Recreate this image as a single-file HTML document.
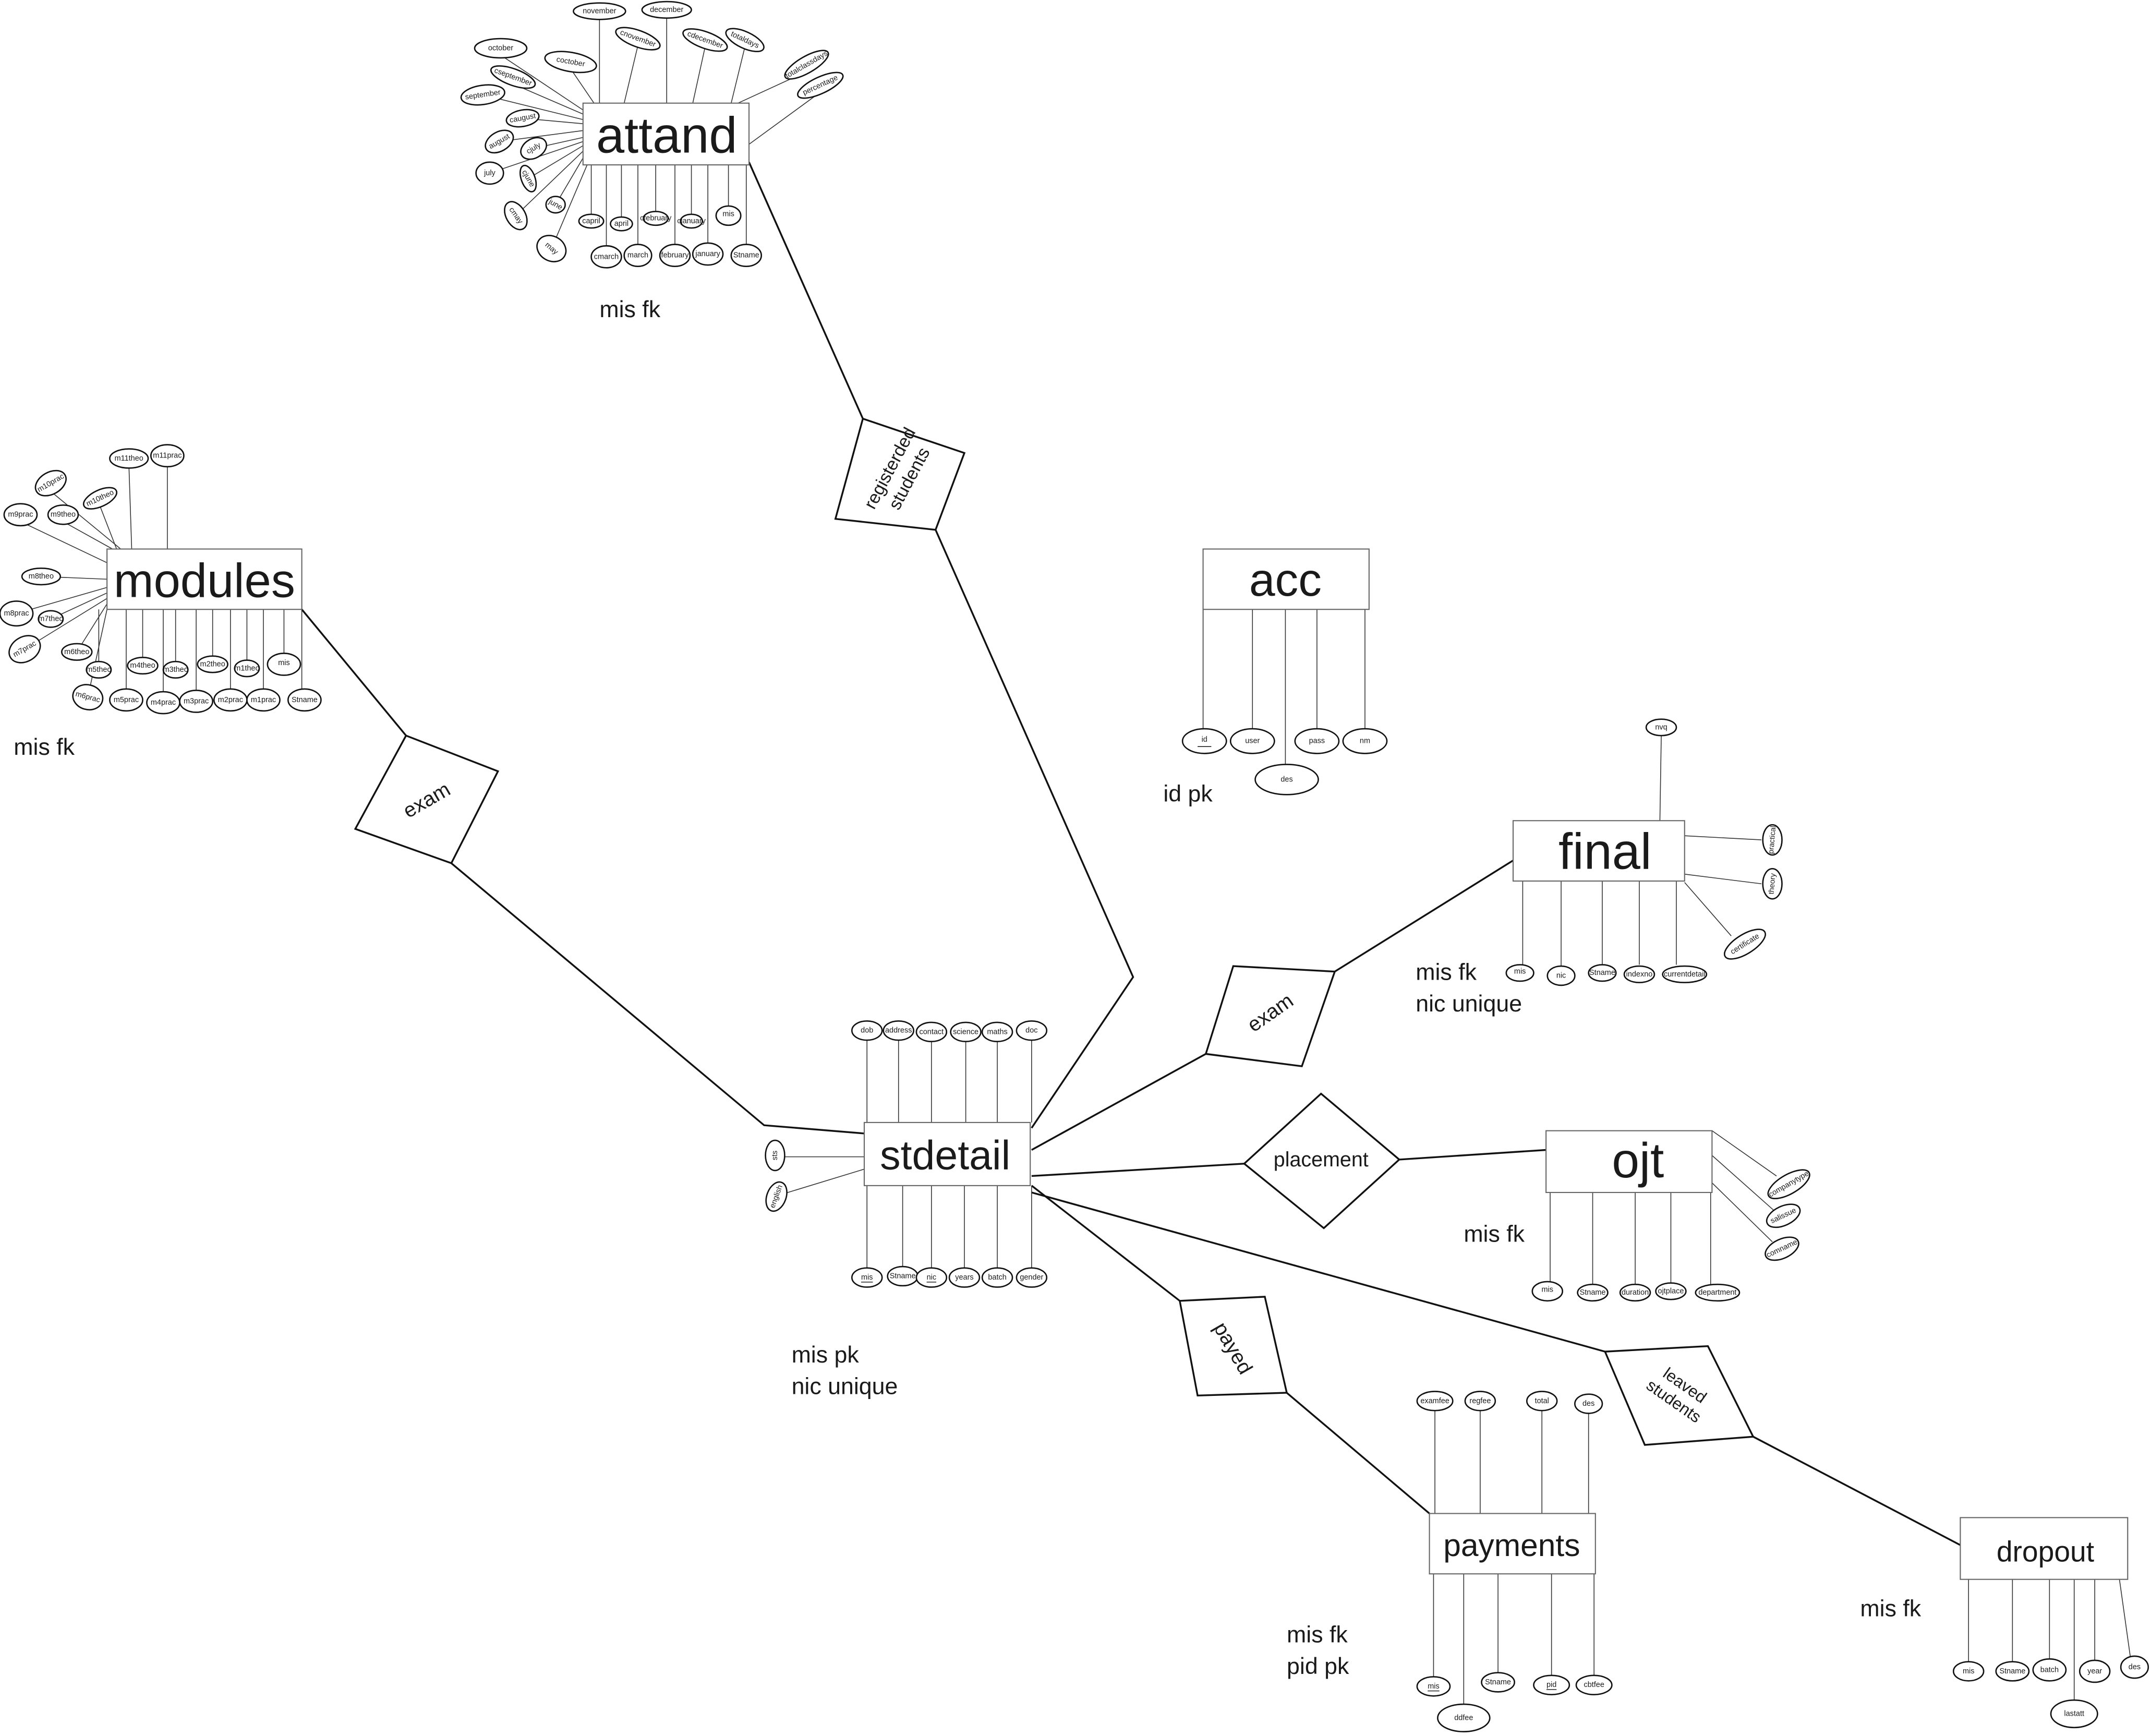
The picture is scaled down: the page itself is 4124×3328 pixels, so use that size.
<!DOCTYPE html>
<html><head><meta charset="utf-8"><style>
html,body{margin:0;padding:0;background:#fff;}
svg{display:block;}
text{font-family:"Liberation Sans",sans-serif;fill:#1a1a1a;}
.a line{stroke:#333;stroke-width:0.6;}
.e ellipse{fill:#fff;stroke:#111;stroke-width:1;}
.e text{font-size:5.5px;text-anchor:middle;dominant-baseline:central;}
.r{fill:#fff;stroke:#666;stroke-width:0.8;}
.c{stroke:#111;stroke-width:1.3;fill:none;}
.d{fill:#fff;stroke:#111;stroke-width:1.3;}
.t{font-size:17px;}
</style></head><body>
<svg width="4124" height="3328" viewBox="0 0 1568 1265" xmlns="http://www.w3.org/2000/svg">
<polyline class="c" points="546,118 629,305"/>
<polyline class="c" points="682,386 826,712 752,822"/>
<polyline class="c" points="220,444 296,536"/>
<polyline class="c" points="329,629 557,820 630,826"/>
<polyline class="c" points="752,838 879,768"/>
<polyline class="c" points="973,708 1103,627"/>
<polyline class="c" points="752,857 907,848"/>
<polyline class="c" points="1020,845 1127,838"/>
<polyline class="c" points="752,864 860,948"/>
<polyline class="c" points="938,1015 1042,1103"/>
<polyline class="c" points="752,869 1170,985"/>
<polyline class="c" points="1278,1047 1429,1126"/>

<g class="a">
<line x1="437" y1="14" x2="437" y2="75"/><line x1="486" y1="13" x2="486" y2="75"/>
<line x1="465" y1="33" x2="455" y2="75"/><line x1="514" y1="34" x2="505" y2="75"/>
<line x1="543" y1="34" x2="533" y2="75"/><line x1="588" y1="52" x2="538" y2="75"/>
<line x1="598" y1="67" x2="546" y2="105"/><line x1="365" y1="40" x2="425" y2="80"/>
<line x1="416" y1="50" x2="433" y2="75"/><line x1="374" y1="61" x2="425" y2="83"/>
<line x1="352" y1="69" x2="425" y2="87"/><line x1="381" y1="86" x2="425" y2="90"/>
<line x1="364" y1="103" x2="425" y2="95"/><line x1="389" y1="108" x2="425" y2="100"/>
<line x1="357" y1="126" x2="425" y2="103"/><line x1="385" y1="130" x2="425" y2="106"/>
<line x1="376" y1="157" x2="425" y2="110"/><line x1="405" y1="149" x2="425" y2="115"/>
<line x1="402" y1="181" x2="428" y2="120"/><line x1="431" y1="161" x2="431" y2="120"/>
<line x1="453" y1="163" x2="453" y2="120"/><line x1="478" y1="159" x2="478" y2="120"/>
<line x1="504" y1="161" x2="504" y2="120"/><line x1="531" y1="157" x2="531" y2="120"/>
<line x1="442" y1="187" x2="442" y2="120"/><line x1="465" y1="186" x2="465" y2="120"/>
<line x1="492" y1="186" x2="492" y2="120"/><line x1="516" y1="185" x2="516" y2="120"/>
<line x1="544" y1="186" x2="544" y2="120"/>
</g>
<rect class="r" x="425" y="75" width="121" height="45"/>
<text x="486" y="111" font-size="37" text-anchor="middle">attand</text>
<g class="e">
<ellipse cx="437" cy="8" rx="19" ry="6"/><text x="437" y="8">november</text>
<ellipse cx="486" cy="7" rx="18" ry="6"/><text x="486" y="7">december</text>
<ellipse cx="465" cy="28" rx="17" ry="6" transform="rotate(20 465 28)"/><text x="465" y="28" transform="rotate(20 465 28)">cnovember</text>
<ellipse cx="514" cy="29" rx="17" ry="6" transform="rotate(20 514 29)"/><text x="514" y="29" transform="rotate(20 514 29)">cdecember</text>
<ellipse cx="543" cy="29" rx="15" ry="6" transform="rotate(25 543 29)"/><text x="543" y="29" transform="rotate(25 543 29)">totaldays</text>
<ellipse cx="588" cy="47" rx="18" ry="6" transform="rotate(-30 588 47)"/><text x="588" y="47" transform="rotate(-30 588 47)">totalclassdays</text>
<ellipse cx="598" cy="62" rx="18" ry="6" transform="rotate(-25 598 62)"/><text x="598" y="62" transform="rotate(-25 598 62)">percentage</text>
<ellipse cx="365" cy="35" rx="19" ry="7"/><text x="365" y="35">october</text>
<ellipse cx="416" cy="45" rx="19" ry="7" transform="rotate(10 416 45)"/><text x="416" y="45" transform="rotate(10 416 45)">coctober</text>
<ellipse cx="374" cy="56" rx="17" ry="6" transform="rotate(20 374 56)"/><text x="374" y="56" transform="rotate(20 374 56)">cseptember</text>
<ellipse cx="352" cy="69" rx="16" ry="7" transform="rotate(-8 352 69)"/><text x="352" y="69" transform="rotate(-8 352 69)">september</text>
<ellipse cx="381" cy="86" rx="12" ry="6" transform="rotate(-10 381 86)"/><text x="381" y="86" transform="rotate(-10 381 86)">caugust</text>
<ellipse cx="364" cy="103" rx="11" ry="7" transform="rotate(-30 364 103)"/><text x="364" y="103" transform="rotate(-30 364 103)">august</text>
<ellipse cx="389" cy="108" rx="10" ry="7" transform="rotate(-30 389 108)"/><text x="389" y="108" transform="rotate(-30 389 108)">cjuly</text>
<ellipse cx="357" cy="126" rx="10" ry="8"/><text x="357" y="126">july</text>
<ellipse cx="385" cy="130" rx="5" ry="10" transform="rotate(-20 385 130)"/><text x="385" y="130" font-size="4" transform="rotate(60 385 130)">cjune</text>
<ellipse cx="376" cy="157" rx="7" ry="11" transform="rotate(-30 376 157)"/><text x="376" y="157" transform="rotate(55 376 157)">cmay</text>
<ellipse cx="405" cy="149" rx="7" ry="6"/><text x="405" y="149" font-size="4" transform="rotate(30 405 149)">june</text>
<ellipse cx="402" cy="181" rx="11" ry="9" transform="rotate(30 402 181)"/><text x="402" y="181" transform="rotate(40 402 181)">may</text>
<ellipse cx="431" cy="161" rx="9" ry="5"/><text x="431" y="161" font-size="4">capril</text>
<ellipse cx="453" cy="163" rx="8" ry="5"/><text x="453" y="163" font-size="4">april</text>
<ellipse cx="478" cy="159" rx="9" ry="5"/><text x="478" y="159" font-size="4">cfebruary</text>
<ellipse cx="504" cy="161" rx="8" ry="5"/><text x="504" y="161" font-size="4">cjanuary</text>
<ellipse cx="531" cy="157" rx="9" ry="7"/><text x="531" y="156" font-size="7">mis</text>
<ellipse cx="442" cy="187" rx="11" ry="8"/><text x="442" y="187">cmarch</text>
<ellipse cx="465" cy="186" rx="10" ry="8"/><text x="465" y="186">march</text>
<ellipse cx="492" cy="186" rx="11" ry="8"/><text x="492" y="186">february</text>
<ellipse cx="516" cy="185" rx="11" ry="8"/><text x="516" y="185">january</text>
<ellipse cx="544" cy="186" rx="11" ry="8"/><text x="544" y="186">Stname</text>
</g>
<text class="t" x="437" y="231">mis fk</text>

<g class="a">
<line x1="94" y1="340" x2="96" y2="400"/><line x1="122" y1="338" x2="122" y2="400"/>
<line x1="37" y1="358" x2="88" y2="400"/><line x1="73" y1="369" x2="85" y2="400"/>
<line x1="15" y1="380" x2="78" y2="410"/><line x1="46" y1="380" x2="82" y2="400"/>
<line x1="30" y1="420" x2="78" y2="422"/><line x1="12" y1="447" x2="78" y2="428"/>
<line x1="37" y1="451" x2="78" y2="432"/><line x1="18" y1="473" x2="78" y2="436"/>
<line x1="56" y1="475" x2="78" y2="440"/><line x1="64" y1="508" x2="78" y2="444"/>
<line x1="72" y1="488" x2="72" y2="444"/>
<line x1="92" y1="510" x2="92" y2="444"/><line x1="104" y1="485" x2="104" y2="444"/>
<line x1="119" y1="512" x2="119" y2="444"/><line x1="128" y1="488" x2="128" y2="444"/>
<line x1="143" y1="511" x2="143" y2="444"/><line x1="155" y1="484" x2="155" y2="444"/>
<line x1="168" y1="510" x2="168" y2="444"/><line x1="180" y1="487" x2="180" y2="444"/>
<line x1="192" y1="510" x2="192" y2="444"/><line x1="207" y1="484" x2="207" y2="444"/>
<line x1="220" y1="510" x2="220" y2="444"/>
</g>
<rect class="r" x="78" y="400" width="142" height="44"/>
<text x="149" y="435" font-size="35" text-anchor="middle">modules</text>
<g class="e">
<ellipse cx="94" cy="334" rx="14" ry="7"/><text x="94" y="334" font-size="5">m11theo</text>
<ellipse cx="122" cy="332" rx="12" ry="8"/><text x="122" y="332">m11prac</text>
<ellipse cx="37" cy="352" rx="12" ry="8" transform="rotate(-30 37 352)"/><text x="37" y="352" transform="rotate(-30 37 352)">m10prac</text>
<ellipse cx="73" cy="363" rx="13" ry="6" transform="rotate(-25 73 363)"/><text x="73" y="363" transform="rotate(-25 73 363)">m10theo</text>
<ellipse cx="15" cy="375" rx="12" ry="8"/><text x="15" y="375">m9prac</text>
<ellipse cx="46" cy="375" rx="11" ry="7"/><text x="46" y="375" font-size="5">m9theo</text>
<ellipse cx="30" cy="420" rx="14" ry="6"/><text x="30" y="420" font-size="5">m8theo</text>
<ellipse cx="12" cy="447" rx="12" ry="9"/><text x="12" y="447">m8prac</text>
<ellipse cx="37" cy="451" rx="9" ry="6"/><text x="37" y="451" font-size="4">m7theo</text>
<ellipse cx="18" cy="473" rx="12" ry="9" transform="rotate(-30 18 473)"/><text x="18" y="473" transform="rotate(-30 18 473)">m7prac</text>
<ellipse cx="56" cy="475" rx="11" ry="6"/><text x="56" y="475" font-size="4">m6theo</text>
<ellipse cx="72" cy="488" rx="9" ry="6"/><text x="72" y="488" font-size="4">m5theo</text>
<ellipse cx="104" cy="485" rx="11" ry="6"/><text x="104" y="485" font-size="4.5">m4theo</text>
<ellipse cx="128" cy="488" rx="9" ry="6"/><text x="128" y="488" font-size="4">m3theo</text>
<ellipse cx="155" cy="484" rx="11" ry="6"/><text x="155" y="484" font-size="4.5">m2theo</text>
<ellipse cx="180" cy="487" rx="9" ry="6"/><text x="180" y="487" font-size="4">m1theo</text>
<ellipse cx="207" cy="484" rx="12" ry="8"/><text x="207" y="483" font-size="8">mis</text>
<ellipse cx="64" cy="508" rx="11" ry="9" transform="rotate(15 64 508)"/><text x="64" y="508" transform="rotate(15 64 508)">m6prac</text>
<ellipse cx="92" cy="510" rx="12" ry="8"/><text x="92" y="510">m5prac</text>
<ellipse cx="119" cy="512" rx="12" ry="8"/><text x="119" y="512">m4prac</text>
<ellipse cx="143" cy="511" rx="12" ry="8"/><text x="143" y="511">m3prac</text>
<ellipse cx="168" cy="510" rx="12" ry="8"/><text x="168" y="510">m2prac</text>
<ellipse cx="192" cy="510" rx="12" ry="8"/><text x="192" y="510">m1prac</text>
<ellipse cx="222" cy="510" rx="12" ry="8"/><text x="222" y="510">Stname</text>
</g>
<text class="t" x="10" y="550">mis fk</text>

<g class="a">
<line x1="877" y1="444" x2="877" y2="532"/><line x1="913" y1="444" x2="913" y2="532"/>
<line x1="937" y1="444" x2="937" y2="558"/><line x1="960" y1="444" x2="960" y2="532"/>
<line x1="995" y1="444" x2="995" y2="532"/>
</g>
<rect class="r" x="877" y="400" width="121" height="44"/>
<text x="937" y="434" font-size="34" text-anchor="middle">acc</text>
<g class="e">
<ellipse cx="878" cy="540" rx="16" ry="9"/><text x="878" y="539" font-size="8">id</text>
<line x1="873" y1="544" x2="883" y2="544" stroke="#111" stroke-width="0.6"/>
<ellipse cx="913" cy="540" rx="16" ry="9"/><text x="913" y="540">user</text>
<ellipse cx="938" cy="568" rx="23" ry="11"/><text x="938" y="568" font-size="8">des</text>
<ellipse cx="960" cy="540" rx="16" ry="9"/><text x="960" y="540">pass</text>
<ellipse cx="995" cy="540" rx="16" ry="9"/><text x="995" y="540">nm</text>
</g>
<text class="t" x="848" y="584">id pk</text>

<g class="a">
<line x1="1211" y1="536" x2="1210" y2="598"/>
<line x1="1228" y1="609" x2="1284" y2="612"/><line x1="1228" y1="637" x2="1284" y2="644"/>
<line x1="1228" y1="643" x2="1262" y2="682"/>
<line x1="1110" y1="642" x2="1110" y2="703"/><line x1="1138" y1="642" x2="1138" y2="704"/>
<line x1="1168" y1="642" x2="1168" y2="703"/><line x1="1195" y1="642" x2="1195" y2="703"/>
<line x1="1222" y1="642" x2="1222" y2="703"/>
</g>
<rect class="r" x="1103" y="598" width="125" height="44"/>
<text x="1170" y="633" font-size="37" text-anchor="middle">final</text>
<g class="e">
<ellipse cx="1211" cy="530" rx="11" ry="6"/><text x="1211" y="530">nvq</text>
<ellipse cx="1292" cy="612" rx="7" ry="11"/><text x="1292" y="612" font-size="4" transform="rotate(-85 1292 612)">practical</text>
<ellipse cx="1292" cy="644" rx="7" ry="11"/><text x="1292" y="644" font-size="4" transform="rotate(-85 1292 644)">theory</text>
<ellipse cx="1272" cy="688" rx="17" ry="7" transform="rotate(-32 1272 688)"/><text x="1272" y="688" transform="rotate(-32 1272 688)">certificate</text>
<ellipse cx="1108" cy="709" rx="10" ry="6"/><text x="1108" y="708" font-size="7">mis</text>
<ellipse cx="1138" cy="711" rx="10" ry="7"/><text x="1138" y="711" font-size="9">nic</text>
<ellipse cx="1168" cy="709" rx="10" ry="6"/><text x="1168" y="709" font-size="4.5">Stname</text>
<ellipse cx="1195" cy="710" rx="11" ry="6"/><text x="1195" y="710" font-size="4.5">indexno</text>
<ellipse cx="1228" cy="710" rx="16" ry="6"/><text x="1228" y="710" font-size="4.5">currentdetail</text>
</g>
<text class="t" x="1032" y="714">mis fk</text>
<text class="t" x="1032" y="737">nic unique</text>

<g class="a">
<line x1="1248" y1="824" x2="1295" y2="857"/><line x1="1248" y1="842" x2="1293" y2="882"/>
<line x1="1248" y1="862" x2="1292" y2="905"/>
<line x1="1130" y1="869" x2="1130" y2="935"/><line x1="1161" y1="869" x2="1161" y2="936"/>
<line x1="1192" y1="869" x2="1192" y2="936"/><line x1="1218" y1="869" x2="1218" y2="935"/>
<line x1="1247" y1="869" x2="1247" y2="936"/>
</g>
<rect class="r" x="1127" y="824" width="121" height="45"/>
<text x="1194" y="858" font-size="36" text-anchor="middle">ojt</text>
<g class="e">
<ellipse cx="1304" cy="863" rx="17" ry="7" transform="rotate(-30 1304 863)"/><text x="1304" y="863" font-size="4.5" transform="rotate(-30 1304 863)">companytype</text>
<ellipse cx="1300" cy="886" rx="13" ry="7" transform="rotate(-25 1300 886)"/><text x="1300" y="886" font-size="4.5" transform="rotate(-25 1300 886)">salissue</text>
<ellipse cx="1299" cy="910" rx="13" ry="7" transform="rotate(-25 1299 910)"/><text x="1299" y="910" font-size="4.5" transform="rotate(-25 1299 910)">comname</text>
<ellipse cx="1128" cy="941" rx="11" ry="7"/><text x="1128" y="940" font-size="7">mis</text>
<ellipse cx="1161" cy="942" rx="11" ry="6"/><text x="1161" y="942" font-size="5">Stname</text>
<ellipse cx="1192" cy="942" rx="11" ry="6"/><text x="1192" y="942" font-size="5">duration</text>
<ellipse cx="1218" cy="941" rx="11" ry="6"/><text x="1218" y="941" font-size="5">ojtplace</text>
<ellipse cx="1252" cy="942" rx="16" ry="6"/><text x="1252" y="942" font-size="5">department</text>
</g>
<text class="t" x="1067" y="905">mis fk</text>

<g class="a">
<line x1="632" y1="757" x2="632" y2="818"/><line x1="655" y1="757" x2="655" y2="818"/>
<line x1="679" y1="758" x2="679" y2="818"/><line x1="704" y1="758" x2="704" y2="818"/>
<line x1="727" y1="758" x2="727" y2="818"/><line x1="752" y1="757" x2="752" y2="818"/>
<line x1="632" y1="864" x2="632" y2="925"/><line x1="658" y1="864" x2="658" y2="924"/>
<line x1="679" y1="864" x2="679" y2="925"/><line x1="703" y1="864" x2="703" y2="925"/>
<line x1="727" y1="864" x2="727" y2="925"/><line x1="752" y1="864" x2="752" y2="925"/>
<line x1="570" y1="843" x2="630" y2="843"/><line x1="571" y1="870" x2="630" y2="852"/>
</g>
<rect class="r" x="630" y="818" width="121" height="46"/>
<text x="689" y="852" font-size="30" text-anchor="middle">stdetail</text>
<g class="e">
<ellipse cx="632" cy="751" rx="11" ry="7"/><text x="632" y="751" font-size="10">dob</text>
<ellipse cx="655" cy="751" rx="11" ry="7"/><text x="655" y="751" font-size="5">address</text>
<ellipse cx="679" cy="752" rx="11" ry="7"/><text x="679" y="752" font-size="5">contact</text>
<ellipse cx="704" cy="752" rx="11" ry="7"/><text x="704" y="752" font-size="5">science</text>
<ellipse cx="727" cy="752" rx="11" ry="7"/><text x="727" y="752" font-size="6">maths</text>
<ellipse cx="752" cy="751" rx="11" ry="7"/><text x="752" y="751" font-size="10">doc</text>
<ellipse cx="632" cy="931" rx="11" ry="7"/><text x="632" y="931" font-size="7" text-decoration="underline">mis</text>
<ellipse cx="658" cy="930" rx="11" ry="7"/><text x="658" y="930" font-size="5">Stname</text>
<ellipse cx="679" cy="931" rx="11" ry="7"/><text x="679" y="931" font-size="10" text-decoration="underline">nic</text>
<ellipse cx="703" cy="931" rx="11" ry="7"/><text x="703" y="931" font-size="6">years</text>
<ellipse cx="727" cy="931" rx="11" ry="7"/><text x="727" y="931" font-size="6">batch</text>
<ellipse cx="752" cy="931" rx="11" ry="7"/><text x="752" y="931" font-size="5.5">gender</text>
<ellipse cx="565" cy="842" rx="7" ry="11"/><text x="565" y="842" font-size="9" transform="rotate(-90 565 842)">sts</text>
<ellipse cx="566" cy="872" rx="7" ry="11" transform="rotate(20 566 872)"/><text x="566" y="872" font-size="4.5" transform="rotate(-70 566 872)">english</text>
</g>
<text class="t" x="577" y="993">mis pk</text>
<text class="t" x="577" y="1016">nic unique</text>

<g class="a">
<line x1="1046" y1="1027" x2="1046" y2="1103"/><line x1="1079" y1="1027" x2="1079" y2="1103"/>
<line x1="1124" y1="1027" x2="1124" y2="1103"/><line x1="1158" y1="1029" x2="1158" y2="1103"/>
<line x1="1045" y1="1147" x2="1045" y2="1222"/><line x1="1067" y1="1147" x2="1067" y2="1242"/>
<line x1="1092" y1="1147" x2="1092" y2="1220"/><line x1="1131" y1="1147" x2="1131" y2="1221"/>
<line x1="1162" y1="1147" x2="1162" y2="1222"/>
</g>
<rect class="r" x="1042" y="1103" width="121" height="44"/>
<text x="1102" y="1134" font-size="23" text-anchor="middle">payments</text>
<g class="e">
<ellipse cx="1046" cy="1021" rx="13" ry="7"/><text x="1046" y="1021" font-size="5">examfee</text>
<ellipse cx="1079" cy="1021" rx="11" ry="7"/><text x="1079" y="1021" font-size="5">regfee</text>
<ellipse cx="1124" cy="1021" rx="11" ry="7"/><text x="1124" y="1021" font-size="5">total</text>
<ellipse cx="1158" cy="1023" rx="10" ry="7"/><text x="1158" y="1023" font-size="5">des</text>
<ellipse cx="1045" cy="1229" rx="12" ry="7"/><text x="1045" y="1229" font-size="8" text-decoration="underline">mis</text>
<ellipse cx="1067" cy="1252" rx="19" ry="10"/><text x="1067" y="1252" font-size="6">ddfee</text>
<ellipse cx="1092" cy="1226" rx="12" ry="7"/><text x="1092" y="1226" font-size="5">Stname</text>
<ellipse cx="1131" cy="1228" rx="13" ry="7"/><text x="1131" y="1228" font-size="8" text-decoration="underline">pid</text>
<ellipse cx="1162" cy="1228" rx="13" ry="7"/><text x="1162" y="1228" font-size="5">cbtfee</text>
</g>
<text class="t" x="938" y="1197">mis fk</text>
<text class="t" x="938" y="1220">pid pk</text>

<g class="a">
<line x1="1435" y1="1151" x2="1435" y2="1212"/><line x1="1467" y1="1151" x2="1467" y2="1212"/>
<line x1="1494" y1="1151" x2="1494" y2="1211"/><line x1="1512" y1="1151" x2="1512" y2="1240"/>
<line x1="1527" y1="1151" x2="1527" y2="1212"/><line x1="1545" y1="1151" x2="1553" y2="1208"/>
</g>
<rect class="r" x="1429" y="1106" width="122" height="45"/>
<text x="1491" y="1138" font-size="21" text-anchor="middle">dropout</text>
<g class="e">
<ellipse cx="1435" cy="1218" rx="11" ry="7"/><text x="1435" y="1218" font-size="6">mis</text>
<ellipse cx="1467" cy="1218" rx="12" ry="7"/><text x="1467" y="1218" font-size="5">Stname</text>
<ellipse cx="1494" cy="1217" rx="12" ry="8"/><text x="1494" y="1217" font-size="6">batch</text>
<ellipse cx="1512" cy="1249" rx="17" ry="10"/><text x="1512" y="1249" font-size="7">lastatt</text>
<ellipse cx="1527" cy="1218" rx="11" ry="8"/><text x="1527" y="1218" font-size="6">year</text>
<ellipse cx="1556" cy="1215" rx="10" ry="8"/><text x="1556" y="1215" font-size="7">des</text>
</g>
<text class="t" x="1356" y="1178">mis fk</text>

<polygon class="d" points="629,305 703,330 682,386 609,378"/>
<text x="656" y="341" font-size="13" text-anchor="middle" transform="rotate(-62 656 345)">registerded</text>
<text x="656" y="357" font-size="13" text-anchor="middle" transform="rotate(-62 656 345)">students</text>
<polygon class="d" points="296,536 363,562 329,629 259,604"/>
<text x="311" y="588" font-size="15" text-anchor="middle" transform="rotate(-30 311 583)">exam</text>
<polygon class="d" points="899,704 973,708 949,777 879,768"/>
<text x="926" y="743" font-size="15" text-anchor="middle" transform="rotate(-35 926 738)">exam</text>
<polygon class="d" points="963,797 1020,845 965,895 907,848"/>
<text x="963" y="850" font-size="15" text-anchor="middle">placement</text>
<polygon class="d" points="860,948 922,945 938,1015 873,1017"/>
<text x="898" y="987" font-size="15" text-anchor="middle" transform="rotate(60 898 983)">payed</text>
<polygon class="d" points="1170,985 1245,981 1278,1047 1199,1053"/>
<text x="1223" y="1012" font-size="12" text-anchor="middle" transform="rotate(35 1223 1017)">leaved</text>
<text x="1223" y="1026" font-size="12" text-anchor="middle" transform="rotate(35 1223 1017)">students</text>
</svg>
</body></html>
